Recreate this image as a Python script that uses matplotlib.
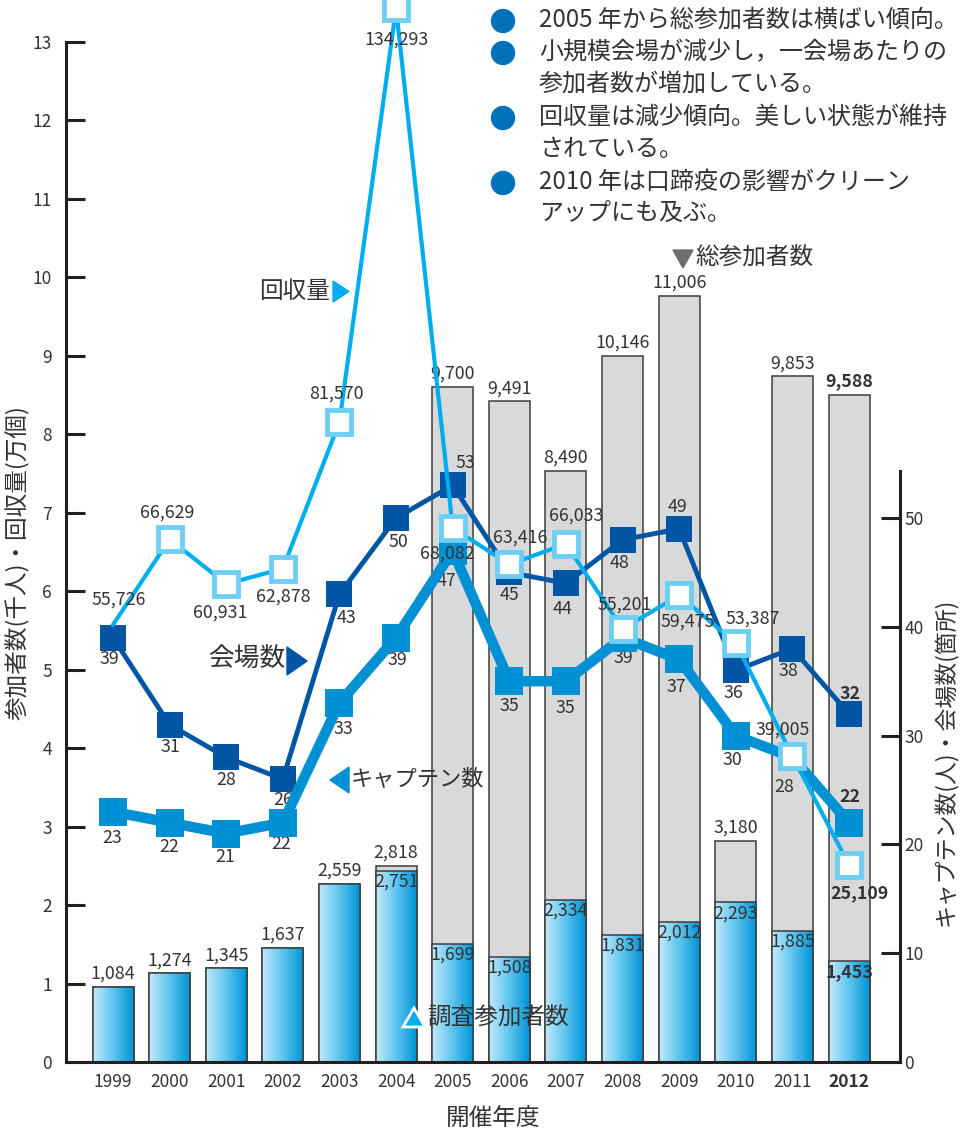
import numpy as np
import matplotlib
matplotlib.use('Agg')
import matplotlib.pyplot as plt
from matplotlib.patches import Polygon, Circle
from matplotlib.colors import LinearSegmentedColormap

plt.rcParams['font.family'] = ['Noto Sans CJK JP', 'DejaVu Sans']

# ---------------- data ----------------
years = [1999, 2000, 2001, 2002, 2003, 2004, 2005, 2006, 2007, 2008, 2009, 2010, 2011, 2012]
year_labels = [str(y) for y in years]
total_participants = [1084, 1274, 1345, 1637, 2559, 2818, 9700, 9491, 8490, 10146, 11006, 3180, 9853, 9588]
survey_participants = [1084, 1274, 1345, 1637, 2559, 2751, 1699, 1508, 2334, 1831, 2012, 2293, 1885, 1453]
collected = [55726, 66629, 60931, 62878, 81570, 134293, 68082, 63416, 66033, 55201, 59475, 53387, 39005, 25109]
venues = [39, 31, 28, 26, 43, 50, 53, 45, 44, 48, 49, 36, 38, 32]
captains = [23, 22, 21, 22, 33, 39, 47, 35, 35, 39, 37, 30, 28, 22]
left_ticks = list(range(0, 14))
right_ticks = [0, 10, 20, 30, 40, 50]

bullets = [
    "2005 年から総参加者数は横ばい傾向。",
    "小規模会場が減少し，一会場あたりの",
    "参加者数が増加している。",
    "回収量は減少傾向。美しい状態が維持",
    "されている。",
    "2010 年は口蹄疫の影響がクリーン",
    "アップにも及ぶ。",
]
bullet_dots = [True, True, False, True, False, True, False]

# ---------------- styles / layout ----------------
W, H = 960, 1133
TXT = '#333333'
SPINE = '#231f20'
C_COLL = '#00aeef'
C_COLL_EDGE = '#6dcff6'
C_VEN = '#0055a5'
C_CAP = '#0091d4'

# label offsets in pixels (dx, dy up)
off_coll = [(6, 25), (-2, 27), (-6, -29), (0, -28), (-3, 28), (0, -31), (-5, -26),
            (11, 27), (10, 28), (2, 24), (9, -26), (17, 25), (-10, 26), (11, -28)]
off_ven = [(-4, -21), (1, -22), (0, -23), (0, -21), (7, -24), (2, -24), (13, 22),
           (0, -23), (-3, -26), (-3, -23), (-2, 22), (-2, -23), (-4, -22), (1, 20)]
off_cap = [(-1, -26), (0, -24), (-1, -23), (-2, -21), (4, -26), (1, -22), (-6, -30),
           (0, -25), (-1, -27), (1, -20), (-3, -28), (-3, -24), (-8, -30), (1, 26)]

fig = plt.figure(figsize=(W / 100, H / 100), dpi=100)
fig.patch.set_facecolor('white')

x0, x1, yb = 66, 900, 1062
rect = [x0 / W, (H - yb) / H, (x1 - x0) / W, yb / H]
px_per_year = (849 - 113) / 13.0
xlim = (1999 - (113 - x0) / px_per_year, 2012 + (x1 - 849) / px_per_year)

ax = fig.add_axes(rect)
axb = fig.add_axes(rect, sharex=ax)
axr = ax.twinx()
axb.set_zorder(1)
axr.set_zorder(2)
ax.set_zorder(3)
for a in (ax, axr):
    a.patch.set_visible(False)

# ---------------- bars ----------------
bw = 41 / px_per_year
tot_k = np.array(total_participants) / 1000.0
sur_k = np.array(survey_participants) / 1000.0
axb.bar(years, tot_k, width=bw, color='#d8d9db', edgecolor='#3d3d3d', linewidth=1.1, zorder=1)
blue = axb.bar(years, sur_k, width=bw, facecolor='none', edgecolor='#3d3d3d', linewidth=1.1, zorder=3)
cmap = LinearSegmentedColormap.from_list('g', ['#c2e9fb', '#5cc4f0', '#0093d5'])
grad = np.linspace(0, 1, 128).reshape(1, -1)
for p in blue:
    bx, bwid, bh = p.get_x(), p.get_width(), p.get_height()
    im = axb.imshow(grad, extent=[bx, bx + bwid, 0, bh], aspect='auto', cmap=cmap,
                    zorder=2, interpolation='bilinear')
    im.set_clip_path(p)

for i, (yr, t, s) in enumerate(zip(years, total_participants, survey_participants)):
    fw = 'bold' if yr == 2012 else 'normal'
    axb.annotate(f"{t:,}", (yr, t / 1000.0), xytext=(0, 4), textcoords='offset pixels',
                 ha='center', va='bottom', fontsize=12.8, color=TXT, fontweight=fw)
    if s != t:
        axb.annotate(f"{s:,}", (yr, s / 1000.0), xytext=(0, -2), textcoords='offset pixels',
                     ha='center', va='top', fontsize=12.8, color=TXT, fontweight=fw)

axb.set_xlim(*xlim)
axb.set_ylim(0, yb / 69.6)
axb.axis('off')

# ---------------- right-axis lines ----------------
axr.plot(years, venues, color=C_VEN, lw=3.5, marker='s', ms=19, mfc=C_VEN, mec=C_VEN,
         mew=0, zorder=2, clip_on=False)
axr.plot(years, captains, color=C_CAP, lw=7.5, marker='s', ms=19.5, mfc=C_CAP, mec=C_CAP,
         mew=0, zorder=3, clip_on=False)
for i, (yr, v, c) in enumerate(zip(years, venues, captains)):
    fw = 'bold' if yr == 2012 else 'normal'
    axr.annotate(str(v), (yr, v), xytext=off_ven[i], textcoords='offset pixels',
                 ha='center', va='center', fontsize=12.8, color=TXT, fontweight=fw, zorder=1)
    axr.annotate(str(c), (yr, c), xytext=off_cap[i], textcoords='offset pixels',
                 ha='center', va='center', fontsize=12.8, color=TXT, fontweight=fw, zorder=1)
axr.set_ylim(0, yb / 10.88)
axr.set_yticks(right_ticks)
axr.tick_params(axis='y', direction='in', length=13.7, width=2.2, color=SPINE, pad=3,
                labelsize=12.5, labelcolor=TXT)
for s in ('left', 'top', 'bottom'):
    axr.spines[s].set_visible(False)
axr.spines['right'].set_linewidth(2.2)
axr.spines['right'].set_color(SPINE)
axr.spines['right'].set_bounds(0, 54.3)

# ---------------- left-axis line (回収量, 万個) ----------------
coll_man = np.array(collected) / 10000.0
ax.plot(years, coll_man, color=C_COLL, lw=3, marker='s', ms=16.7, mfc='white', mec=C_COLL_EDGE,
        mew=3.5, markevery=list(range(1, len(years))), zorder=4, clip_on=False)
for i, (yr, c) in enumerate(zip(years, collected)):
    fw = 'bold' if yr == 2012 else 'normal'
    ax.annotate(f"{c:,}", (yr, c / 10000.0), xytext=off_coll[i], textcoords='offset pixels',
                ha='center', va='center', fontsize=12.8, color=TXT, fontweight=fw, zorder=5)

ax.set_xlim(*xlim)
ax.set_ylim(0, yb / 78.46)
ax.set_yticks(left_ticks)
ax.set_xticks(years)
ax.set_xticklabels(year_labels)
ax.get_xticklabels()[-1].set_fontweight('bold')
ax.tick_params(axis='y', direction='in', length=13.7, width=2.2, color=SPINE, pad=10,
               labelsize=12.5, labelcolor=TXT)
ax.tick_params(axis='x', length=0, pad=8, labelsize=12.5, labelcolor=TXT)
for s in ('right', 'top'):
    ax.spines[s].set_visible(False)
for s in ('left', 'bottom'):
    ax.spines[s].set_linewidth(2.2)
    ax.spines[s].set_color(SPINE)
ax.spines['left'].set_bounds(0, 13)

# ---------------- overlay annotations (pixel coords) ----------------
ov = fig.add_axes([0, 0, 1, 1], zorder=10)
ov.set_xlim(0, W)
ov.set_ylim(H, 0)
ov.axis('off')
ov.patch.set_visible(False)

by = [20, 52, 84, 117, 149, 182, 213]
for y, s, dot in zip(by, bullets, bullet_dots):
    if dot:
        ov.add_patch(Circle((503, y + 1), 11.5, color='#0072bc'))
    ov.text(539, y, s, ha='left', va='center', fontsize=17.3, color=TXT)

ov.add_patch(Polygon([(333, 281), (333, 302), (349, 291.5)], closed=True, color=C_COLL))
ov.text(330, 291, "回収量", ha='right', va='center', fontsize=17, color=TXT)

ov.add_patch(Polygon([(287, 647), (287, 675), (307, 661)], closed=True, color=C_VEN))
ov.text(285, 660, "会場数", ha='right', va='center', fontsize=18.5, color=TXT)

ov.add_patch(Polygon([(349, 767), (349, 793), (330, 780)], closed=True, color=C_CAP))
ov.text(351, 779, "キャプテン数", ha='left', va='center', fontsize=16, color=TXT)

ov.add_patch(Polygon([(673, 250), (693, 250), (683, 268)], closed=True, color='#6d6e71'))
ov.text(695, 258, "総参加者数", ha='left', va='center', fontsize=17, color=TXT)

ov.add_patch(Polygon([(403, 1027), (425, 1027), (414, 1008)], closed=True, fc=C_COLL,
                     ec='white', lw=2))
ov.text(427, 1017, "調査参加者数", ha='left', va='center', fontsize=17, color=TXT)

ov.text(493, 1119, "開催年度", ha='center', va='center', fontsize=17, color=TXT)
ov.text(18, 563, "参加者数(千人)・回収量(万個)", ha='center', va='center', rotation=90,
        fontsize=17, color=TXT)
ov.text(946, 762, "キャプテン数(人)・会場数(箇所)", ha='center', va='center', rotation=90,
        fontsize=16.5, color=TXT)

fig.savefig('out.png', dpi=100)
